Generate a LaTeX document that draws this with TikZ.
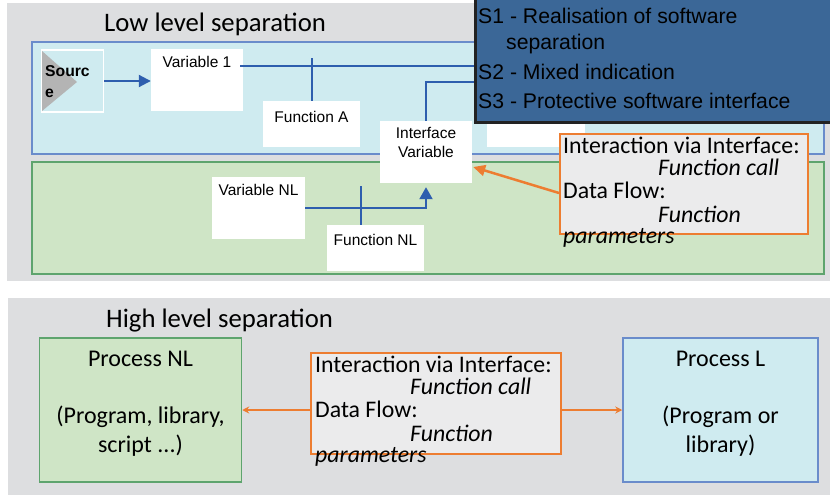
\documentclass[tikz,border=0pt]{standalone}
\usepackage{fontspec}
\setmainfont{Carlito}
\newfontfamily\arialfont{Liberation Sans}
\usetikzlibrary{arrows.meta,calc}

\definecolor{panelgray}{HTML}{DDDEE0}
\definecolor{lightblue}{HTML}{CFEBF0}
\definecolor{lightgreen}{HTML}{CFE5C6}
\definecolor{blueborder}{HTML}{6A8CCB}
\definecolor{greenborder}{HTML}{5EA46E}
\definecolor{lineblue}{HTML}{2E5EAE}
\definecolor{calloutorange}{HTML}{ED7D31}
\definecolor{sboxfill}{HTML}{3B6797}
\definecolor{sboxborder}{HTML}{222222}
\definecolor{calloutfill}{HTML}{EBEBEC}
\definecolor{trigray}{HTML}{B4B4B4}

\begin{document}
\begin{tikzpicture}[x=1pt,y=-1pt,
  wbox/.style={fill=white, draw=none, inner sep=0pt},
  lbl/.style={font=\arialfont\fontsize{15.5}{18}\selectfont, inner sep=0pt, anchor=base},
  stext/.style={font=\arialfont\fontsize{21.2}{25}\selectfont, inner sep=0pt, anchor=base west, text=black},
  ctext/.style={font=\fontsize{23.8}{26}\selectfont, inner sep=0pt, anchor=base west},
  ptext/.style={font=\fontsize{24}{28}\selectfont, inner sep=0pt, anchor=base},
  ttext/.style={font=\fontsize{26.7}{30}\selectfont, inner sep=0pt, anchor=base west},
  bline/.style={draw=lineblue, line width=2pt},
  callout/.style={fill=calloutfill, draw=calloutorange, line width=2pt, inner sep=0pt},
  procbox/.style={line width=1.5pt, inner sep=0pt, minimum height=144},
]
\useasboundingbox (0,0) rectangle (830,495);
\clip (0,0) rectangle (830,495);
\fill[white] (0,0) rectangle (830,495);

% ---------- low level separation ----------
\fill[panelgray] (7,3) rectangle (830,281);
\node[ttext] (lowtitle) at (104,32) {Low level separation};

\filldraw[fill=lightblue, draw=blueborder, line width=1.5pt] (32,42) rectangle (824,154);
\filldraw[fill=lightgreen, draw=greenborder, line width=1.5pt] (32,162) rectangle (824,274);

% source block
\node[fill=lightblue, draw=white, line width=1.5pt, minimum width=62, minimum height=62, inner sep=0pt] (src) at (72.5,81) {};
\fill[trigray] (42,51) -- (77,82) -- (42,111) -- cycle;
\node[font=\arialfont\bfseries\fontsize{15.7}{18}\selectfont, inner sep=0pt, anchor=base west] (srcA) at (45,77) {Sourc};
\node[font=\arialfont\bfseries\fontsize{15.7}{18}\selectfont, inner sep=0pt, anchor=base west] (srcB) at (45,97) {e};

% variables and functions
\node[wbox, minimum width=92, minimum height=62] (var1) at (197,80) {};
\node[lbl] (var1t) at (197,67) {Variable 1};

\node[wbox, minimum width=97, minimum height=46] (fa) at (311.5,124) {};
\node[lbl] (fat) at (311.5,122) {Function A};

\node[wbox, minimum width=92, minimum height=62] (iv) at (426,152) {};
\node[lbl] (ivt1) at (426,138) {Interface};
\node[lbl] (ivt2) at (426,157) {Variable};

\node[wbox, minimum width=98, minimum height=70] (fb) at (536,112) {};

\node[wbox, minimum width=93, minimum height=62] (vnl) at (258.5,208) {};
\node[lbl] (vnlt) at (258.5,195) {Variable NL};

\node[wbox, minimum width=97, minimum height=46] (fnl) at (375.5,248) {};
\node[lbl] (fnlt) at (375.5,245) {Function NL};

% connectors of the low level part
\draw[bline, -{Triangle[length=12,width=12]}] (src.east) -- (src.east -| var1.west);

\coordinate (v1out) at (240,66);
\coordinate (fatop) at (312,58);
\coordinate (ivlevel) at (0,82);
\coordinate (fnltop) at (361,186);

\draw[bline] (v1out) -- (v1out -| fb.east);
\draw[bline] (fa.north) -- (fa.north |- fatop);
\draw[bline] (iv.north) -- (iv.north |- ivlevel) -- (ivlevel -| fb.east);
\draw[bline, -{Triangle[length=12,width=13]}] (vnl.east) -| ([yshift=-4pt]iv.south);
\draw[bline] (fnltop) -- (fnltop |- fnl.north);

% legend of the separation rules
\node[fill=sboxfill, draw=sboxborder, line width=3pt, minimum width=370, minimum height=132, inner sep=0pt] (sbox) at (660,56) {};
\node[stext] (s1) at (478,24) {S1 - Realisation of software};
\node[stext] (s1b) at (506,50) {separation};
\node[stext] (s2) at (478,79) {S2 - Mixed indication};
\node[stext] (s3) at (478,108) {S3 - Protective software interface};

% interaction callout (low level)
\node[callout, minimum width=248, minimum height=100] (co1) at (684,184) {};
\node[ctext] (co1a) at (563,153) {Interaction via Interface:};
\node[ctext] (co1b) at (658,175) {\itshape Function call};
\node[ctext] (co1c) at (563,198) {Data Flow:};
\node[ctext] (co1d) at (658,222) {\itshape Function};
\node[ctext] (co1e) at (563,243) {\itshape parameters};

\draw[draw=calloutorange, line width=2.5pt, -{Triangle[length=12,width=11]}]
  ($(co1.west)+(0,-9pt)$) -- ($(iv.east)+(1pt,-15pt)$);

% ---------- high level separation ----------
\fill[panelgray] (8,298) rectangle (830,495);
\node[ttext] (hightitle) at (106,327) {High level separation};

\node[procbox, fill=lightgreen, draw=greenborder, minimum width=202] (pnl) at (140.5,410) {};
\node[ptext] (pnla) at (140.5,366) {Process NL};
\node[ptext] (pnlb) at (140.5,423) {(Program, library,};
\node[ptext] (pnlc) at (140.5,452) {script ...)};

\node[procbox, fill=lightblue, draw=blueborder, minimum width=195] (pl) at (720.5,410) {};
\node[ptext] (pla) at (720.5,366) {Process L};
\node[ptext] (plb) at (720.5,423) {(Program or};
\node[ptext] (plc) at (720.5,452) {library)};

\node[callout, minimum width=250, minimum height=101] (co2) at (436,403.5) {};
\node[ctext] (co2a) at (315,372) {Interaction via Interface:};
\node[ctext] (co2b) at (410,394) {\itshape Function call};
\node[ctext] (co2c) at (315,417) {Data Flow:};
\node[ctext] (co2d) at (410,441) {\itshape Function};
\node[ctext] (co2e) at (315,462) {\itshape parameters};

\draw[draw=calloutorange, line width=1.5pt, -{Stealth[length=7,width=7]}] (co2.west |- pnl.east) -- (pnl.east);
\draw[draw=calloutorange, line width=1.5pt, -{Stealth[length=7,width=7]}] (co2.east |- pl.west) -- (pl.west);
\end{tikzpicture}
\end{document}
